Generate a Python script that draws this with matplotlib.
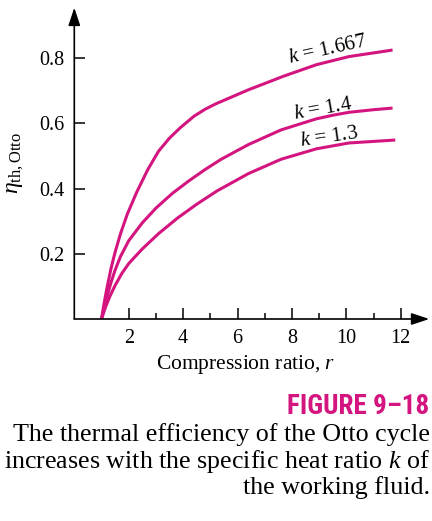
import matplotlib
matplotlib.use("Agg")
import matplotlib.pyplot as plt

# values
r_k1667 = [1.0, 1.1, 1.2, 1.35, 1.5, 1.7, 1.95, 2.3, 2.7, 3.1, 3.5, 3.9, 4.4, 4.8, 5.2, 6.4, 7.7, 8.9,
           10.1, 11.7]
eta_k1667 = [0, 0.05, 0.095, 0.155, 0.205, 0.262, 0.322, 0.39, 0.458, 0.515, 0.555, 0.587, 0.622, 0.643,
             0.66, 0.703, 0.745, 0.78, 0.805, 0.825]

r_k14 = [1.0, 1.1, 1.2, 1.35, 1.5, 1.7, 2.0, 2.5, 3.0, 3.6, 4.2, 4.8, 5.4, 6.4, 7.6, 8.9, 9.5, 10.1,
         11.0, 11.7]
eta_k14 = [0, 0.036, 0.068, 0.112, 0.15, 0.192, 0.24, 0.295, 0.34, 0.385, 0.423, 0.458, 0.49, 0.535,
           0.58, 0.614, 0.625, 0.634, 0.642, 0.647]

r_k13 = [1.0, 1.15, 1.3, 1.5, 1.75, 2.0, 2.5, 3.1, 3.8, 4.5, 5.25, 6.4, 7.6, 8.9, 10.1, 11.8]
eta_k13 = [0, 0.037, 0.068, 0.103, 0.14, 0.17, 0.215, 0.262, 0.31, 0.352, 0.393, 0.446, 0.49, 0.522,
           0.54, 0.549]

curve_labels = ["$k$ = 1.667", "$k$ = 1.4", "$k$ = 1.3"]
xticks = [2, 4, 6, 8, 10, 12]
xminor = [3, 5, 7, 9, 11]
yticks = [0.2, 0.4, 0.6, 0.8]
caption = ["The thermal efficiency of the Otto cycle",
           "increases with the specific heat ratio $k$ of",
           "the working fluid."]

magenta = "#d4157f"
plt.rcParams["font.family"] = ["Liberation Serif", "DejaVu Serif"]
plt.rcParams["mathtext.fontset"] = "custom"
plt.rcParams["mathtext.rm"] = "Liberation Serif"
plt.rcParams["mathtext.it"] = "Liberation Serif:italic"

W, H = 432, 521
fig = plt.figure(figsize=(W / 100, H / 100), dpi=100)
x0, y0 = 74.3, 319.0
sx, sy = 27.2, 326.0
xmax, ymax = 13.05, 0.955
ax = fig.add_axes([x0 / W, (H - y0) / H, xmax * sx / W, ymax * sy / H])
ax.set_xlim(0, xmax)
ax.set_ylim(0, ymax)

for rr, ee in [(r_k1667, eta_k1667), (r_k14, eta_k14), (r_k13, eta_k13)]:
    ax.plot(rr, ee, color=magenta, lw=2.2, solid_joinstyle="round", solid_capstyle="butt")

# curve labels
ax.text(9.33, 0.825, curve_labels[0], fontsize=15, rotation=12.5, ha="center", va="center")
ax.text(9.16, 0.643, curve_labels[1], fontsize=15, rotation=10, ha="center", va="center")
ax.text(9.36, 0.558, curve_labels[2], fontsize=15, rotation=8, ha="center", va="center")

# axes drawn as arrows
for s in ax.spines.values():
    s.set_visible(False)
arrow = dict(arrowstyle="-|>,head_length=0.9,head_width=0.3", color="black", lw=1.2,
             shrinkA=0, shrinkB=0, mutation_scale=12)
ax.annotate("", xy=(xmax, 0), xytext=(0, 0), arrowprops=arrow, annotation_clip=False)
ax.annotate("", xy=(0, ymax), xytext=(0, 0), arrowprops=arrow, annotation_clip=False)

ax.set_xticks(xticks)
ax.set_xticks(xminor, minor=True)
ax.set_yticks(yticks)
ax.set_yticklabels([f"{v:.1f}" for v in yticks])
ax.tick_params(axis="both", which="major", direction="in", length=8, width=1.1, labelsize=14.5, pad=7)
ax.tick_params(axis="x", which="minor", direction="in", length=4, width=1.1)

ax.set_xlabel("Compression ratio, $r$", fontsize=15.5)
ax.xaxis.set_label_coords(0.483, -0.11)
ax.set_ylabel(r"$\eta_{\mathrm{th,Otto}}$", fontsize=17)
ax.yaxis.set_label_coords(-0.135, 0.5)

fig.text(429 / W, 1 - 407 / H, "FIGURE 9\u201318", color=magenta, fontsize=19.5,
         fontweight="bold", family=["Roboto Condensed", "Liberation Sans Narrow", "Roboto", "DejaVu Sans"],
         ha="right", va="center")
for i, line in enumerate(caption):
    fig.text(430 / W, 1 - (435 + 26.5 * i) / H, line, fontsize=18.7, ha="right", va="center")

fig.savefig("out.png", dpi=100)
